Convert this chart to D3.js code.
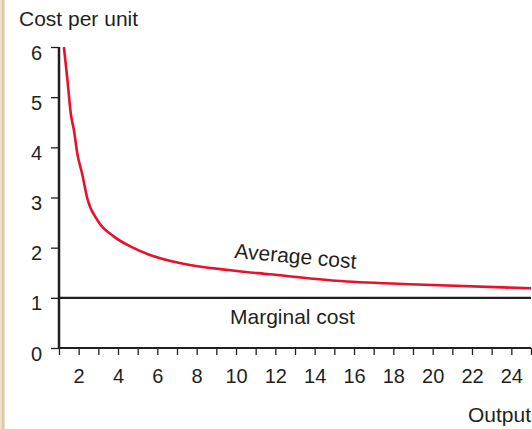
<!DOCTYPE html>
<html>
<head>
<meta charset="utf-8">
<script src="https://cdn.jsdelivr.net/npm/d3@7"></script>
<style>
  body { margin: 0; background: #fff; }
  svg { display: block; font-family: "Liberation Sans", Arial, sans-serif; }
</style>
</head>
<body>
<svg width="532" height="429"></svg>
<script>
// output levels and average cost
const output = [1.25, 1.43, 1.6, 1.76, 1.93, 2.19, 2.44, 2.95, 3.8, 4.65, 5.66, 7.2, 9.7, 11.7, 15.1, 18.85, 25];
const avgCost = [6, 5.34, 4.67, 4.34, 3.88, 3.45, 2.98, 2.55, 2.22, 2.02, 1.85, 1.69, 1.55, 1.47, 1.34, 1.27, 1.19];
const marginalCost = 1;
const xTicks = d3.range(1, 26);
const xLabels = [2, 4, 6, 8, 10, 12, 14, 16, 18, 20, 22, 24];
const yTicks = [0, 1, 2, 3, 4, 5, 6];

const svg = d3.select("svg");
const ink = "#231f20";

// tan stripe down the left edge
svg.append("rect").attr("x", 0).attr("y", 0).attr("width", 5).attr("height", 429).attr("fill", "#ecdfc6");
svg.append("rect").attr("x", 2).attr("y", 0).attr("width", 2).attr("height", 429).attr("fill", "#dcc9a6");

const x = d3.scaleLinear().domain([1, 25]).range([59, 531]);
const y = d3.scaleLinear().domain([0, 6]).range([348, 47]);

// y axis
const gy = svg.append("g").attr("transform", `translate(${x(1)},0)`)
  .call(d3.axisLeft(y).tickValues(yTicks).tickSize(8).tickPadding(9).tickFormat(d3.format("d")));
gy.select(".domain").remove();
gy.selectAll(".tick line").attr("stroke", ink).attr("stroke-width", 1.3);
gy.selectAll(".tick text").attr("fill", ink).attr("font-size", 20).attr("dy", "0.6em")
  .attr("font-family", "Liberation Sans, Arial, sans-serif");
svg.append("line").attr("x1", x(1)).attr("x2", x(1)).attr("y1", y(6)).attr("y2", y(0) + 1)
  .attr("stroke", ink).attr("stroke-width", 2.5);

// x axis
const gx = svg.append("g").attr("transform", `translate(0,${y(0)})`)
  .call(d3.axisBottom(x).tickValues(xTicks).tickSize(7).tickPadding(14)
    .tickFormat(d => xLabels.includes(d) ? d : ""));
gx.select(".domain").remove();
gx.selectAll(".tick line").attr("stroke", ink).attr("stroke-width", 1.3);
gx.selectAll(".tick text").attr("fill", ink).attr("font-size", 20)
  .attr("font-family", "Liberation Sans, Arial, sans-serif");
svg.append("line").attr("x1", x(1) - 1).attr("x2", x(25)).attr("y1", y(0)).attr("y2", y(0))
  .attr("stroke", ink).attr("stroke-width", 2.2);

// marginal cost
svg.append("line").attr("x1", x(1)).attr("x2", x(25)).attr("y1", y(marginalCost)).attr("y2", y(marginalCost))
  .attr("stroke", ink).attr("stroke-width", 2.2);

// average cost curve
const line = d3.line().x((d, i) => x(output[i])).y(d => y(d)).curve(d3.curveMonotoneX);
svg.append("path").datum(avgCost).attr("d", line)
  .attr("fill", "none").attr("stroke", "#e8112d").attr("stroke-width", 2.6);

// labels
svg.append("text").attr("x", 19).attr("y", 26).attr("font-size", 21).attr("fill", ink).text("Cost per unit");
svg.append("text").attr("x", 531).attr("y", 422).attr("text-anchor", "end").attr("font-size", 21).attr("fill", ink).text("Output");
svg.append("text").attr("x", 230).attr("y", 324).attr("font-size", 21).attr("fill", ink).text("Marginal cost");
svg.append("text").attr("transform", "translate(234,258) rotate(5)").attr("font-size", 21).attr("fill", ink).text("Average cost");
</script>
</body>
</html>
